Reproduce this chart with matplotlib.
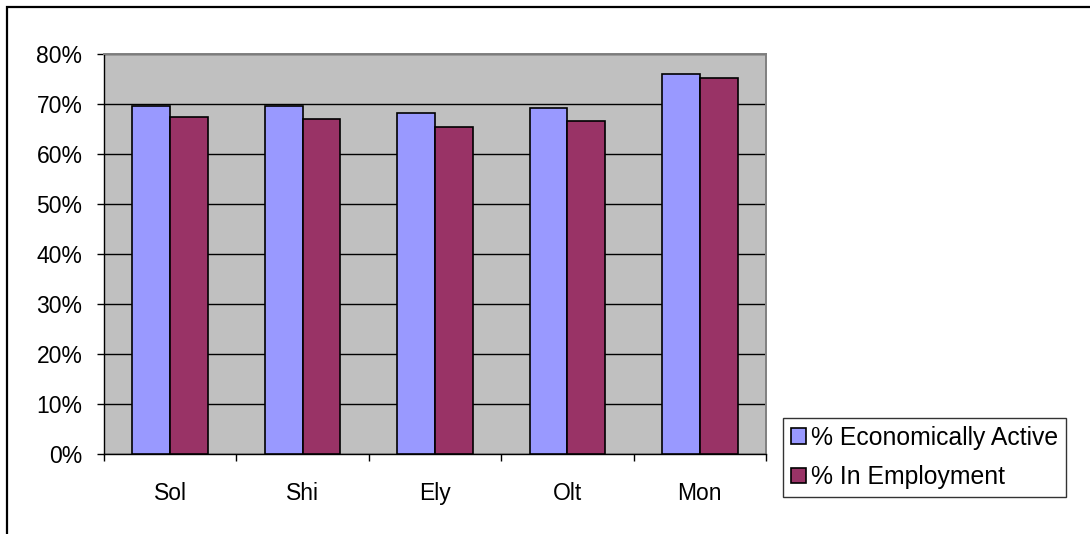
import numpy as np
import matplotlib
matplotlib.use("Agg")
import matplotlib.pyplot as plt
from matplotlib.patches import Rectangle
from matplotlib.ticker import PercentFormatter

plt.rcParams["font.family"] = ["Liberation Sans", "DejaVu Sans"]

# ward figures
areas = ["Sol", "Shi", "Ely", "Olt", "Mon"]
econ_active = [69.5, 69.5, 68.1, 69.1, 76.0]
in_employment = [67.3, 66.9, 65.4, 66.5, 75.2]
labels = ["% Economically Active", "% In Employment"]

W, H = 1090, 534
fig = plt.figure(figsize=[W / 100, H / 100], dpi=100)

# outer chart border
fig.patches.append(Rectangle((7 / W, -0.1), 1.2, 1 - 7 / H + 0.1,
                             transform=fig.transFigure, fill=False,
                             edgecolor="black", linewidth=1.6))

ax = fig.add_axes([104 / W, 80 / H, 662 / W, 400 / H])
ax.set_facecolor("#c0c0c0")

x = np.arange(len(areas))
w = 1 / 3.5
ax.bar(x - w / 2, econ_active, w, color="#9999ff", edgecolor="black",
       linewidth=1.2, label=labels[0], zorder=3)
ax.bar(x + w / 2, in_employment, w, color="#993366", edgecolor="black",
       linewidth=1.2, label=labels[1], zorder=3)

ax.set_xlim(-0.5, len(areas) - 0.5)
ax.set_ylim(0, 80)
ax.set_yticks(range(0, 81, 10))
ax.yaxis.set_major_formatter(PercentFormatter(decimals=0))
ax.yaxis.grid(True, color="black", linewidth=1.0, zorder=1)
ax.set_axisbelow(True)

ax.set_xticks(x)
ax.set_xticklabels(areas)
ax.set_xticks(np.arange(-0.5, len(areas)), minor=True)
ax.tick_params(axis="x", which="major", length=0, pad=20.5, labelsize=16.5)
ax.tick_params(axis="x", which="minor", length=5, width=1.0)
ax.tick_params(axis="y", length=5, width=1.0, pad=10.5, labelsize=16.5)

for side in ["left", "bottom"]:
    ax.spines[side].set_color("black")
    ax.spines[side].set_linewidth(1.0)
for side in ["top", "right"]:
    ax.spines[side].set_color("#808080")
    ax.spines[side].set_linewidth(1.4)

leg = fig.legend(loc="upper left", bbox_to_anchor=(783 / W, 1 - 418 / H),
                 frameon=True, fancybox=False, edgecolor="black",
                 fontsize=17.8, handlelength=0.6, handleheight=0.6,
                 handletextpad=0.22, borderpad=0.32, labelspacing=0.62,
                 borderaxespad=0)
leg.get_frame().set_linewidth(1.0)

fig.savefig("out.png", dpi=100)
